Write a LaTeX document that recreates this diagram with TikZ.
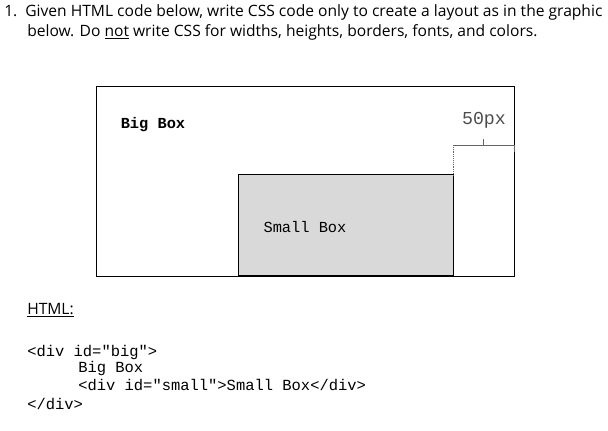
\documentclass[tikz,border=0pt]{standalone}
\usepackage{fontspec}
\setmainfont{Open Sans}
\newfontfamily\monof{Liberation Mono}
\begin{document}
\begin{tikzpicture}[x=0.75pt,y=-0.75pt,
  txt/.style={anchor=west,inner sep=0pt,font=\fontsize{11.7}{13}\selectfont},
  code/.style={anchor=west,inner sep=0pt,font=\monof\fontsize{11.6}{13}\selectfont},
  lab/.style={inner sep=0pt,font=\monof\fontsize{11.5}{13}\selectfont}]
\useasboundingbox (0,0) rectangle (608,431);
\node[txt] (q1) at (4,12) {1.\hspace{6pt}Given HTML code below, write CSS code only to create a layout as in the graphic};
\node[txt] (q2) at (27,32) {below. Do \underline{not} write CSS for widths, heights, borders, fonts, and colors.};
\node[draw,line width=0.9pt,minimum width=418*0.75pt,minimum height=190*0.75pt,anchor=north west,inner sep=0pt] (big) at (96,86) {};
\node[draw,line width=0.9pt,fill=black!15,minimum width=215*0.75pt,minimum height=101*0.75pt,anchor=south west,inner sep=0pt] (small) at (238,276) {};
\node[lab,font=\monof\bfseries\fontsize{11.5}{13}\selectfont] (bl) at (153,125) {Big Box};
\node[lab] (sl) at (305,227) {Small Box};
\node[lab,text=black!70,font=\monof\fontsize{13.7}{15}\selectfont] (px) at (484,120) {50px};
\coordinate (l) at (453,145); \coordinate (r) at (514,145);
\draw[black!60] (l) -- (r) (483,145) -- (483,139) (514,145) -- (514,152);
\draw[black!60,densely dotted] (l) -- (453,175);
\node[txt] (h) at (27,310) {\underline{HTML:}};
\node[code] (c1) at (27,352) {<div id="big">};
\node[code] (c2) at (78,368) {Big Box};
\node[code] (c3) at (78,385) {<div id="small">Small Box</div>};
\node[code] (c4) at (27,404) {</div>};
\end{tikzpicture}
\end{document}
